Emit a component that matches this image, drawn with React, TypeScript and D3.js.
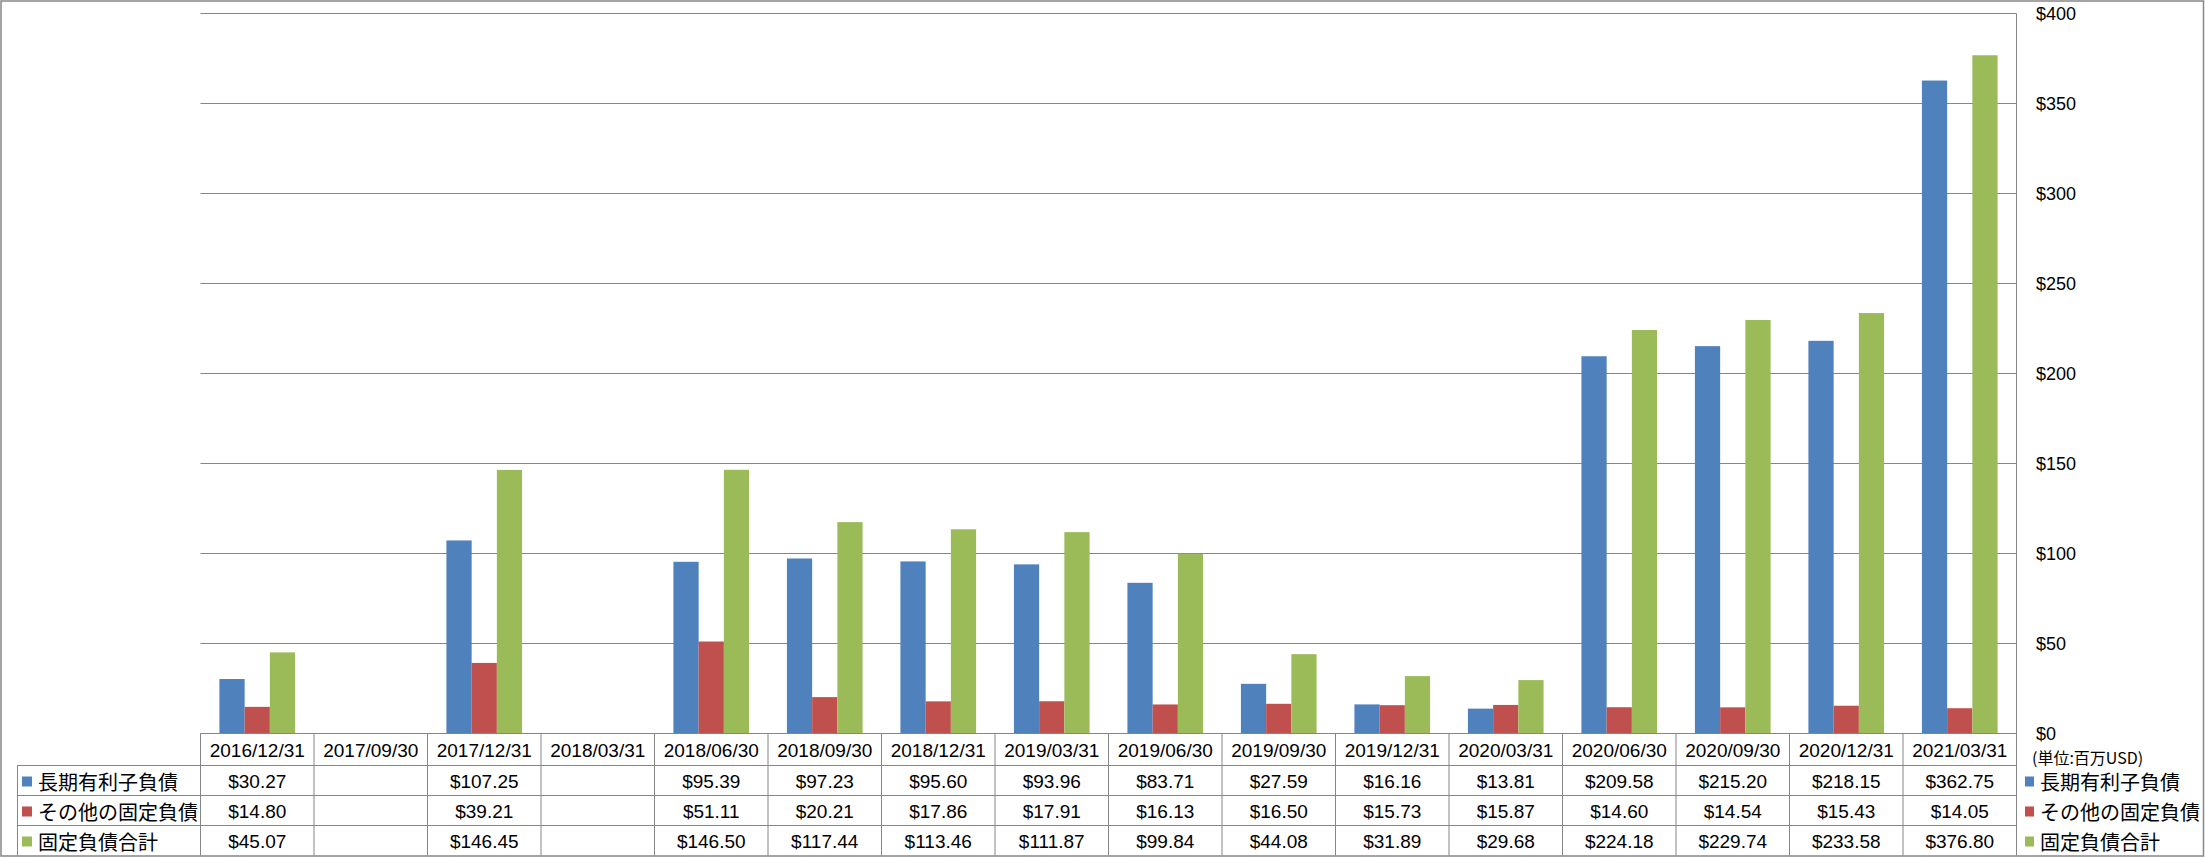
import React from "react";
import * as d3 from "d3";

const categories = [
  "2016/12/31", "2017/09/30", "2017/12/31", "2018/03/31", "2018/06/30", "2018/09/30",
  "2018/12/31", "2019/03/31", "2019/06/30", "2019/09/30", "2019/12/31", "2020/03/31",
  "2020/06/30", "2020/09/30", "2020/12/31", "2021/03/31",
];
const seriesNames = ["長期有利子負債", "その他の固定負債", "固定負債合計"];
const longTermDebt = [30.27, null, 107.25, null, 95.39, 97.23, 95.6, 93.96, 83.71, 27.59, 16.16, 13.81, 209.58, 215.2, 218.15, 362.75];
const otherFixed = [14.8, null, 39.21, null, 51.11, 20.21, 17.86, 17.91, 16.13, 16.5, 15.73, 15.87, 14.6, 14.54, 15.43, 14.05];
const totalFixed = [45.07, null, 146.45, null, 146.5, 117.44, 113.46, 111.87, 99.84, 44.08, 31.89, 29.68, 224.18, 229.74, 233.58, 376.8];
const seriesColors = ["#4F81BD", "#C0504D", "#9BBB59"];
const yTicks = [0, 50, 100, 150, 200, 250, 300, 350, 400];
const unitLabel = "(単位:百万USD)";

const seriesValues = [longTermDebt, otherFixed, totalFixed];

export default function App() {
  const W = 2205, H = 858;
  const plotLeft = 200.5, plotRight = 2016.5, plotTop = 13.5, plotBottom = 733.5;
  const rowTops = [733.5, 765.5, 795.5, 825.5, 855.5];
  const labelLeft = 17.5;
  const grid = "#868686";
  const numFont = "'Liberation Sans', Arial, sans-serif";
  const jpFont = "'Noto Sans CJK JP', 'Noto Sans CJK SC', sans-serif";

  const x = d3.scaleBand<string>().domain(categories).range([plotLeft, plotRight]).paddingInner(0).paddingOuter(0);
  const bw = x.bandwidth() / 4.5;
  const xs = d3.scaleBand<string>().domain(seriesNames).range([0.75 * bw, 0.75 * bw + 3 * bw]);
  const y = d3.scaleLinear().domain([0, 400]).range([plotBottom, plotTop]);
  const fmt = (v: number) => "$" + d3.format(".2f")(v);

  return (
    <svg width={W} height={H} style={{ position: "absolute", left: 0, top: 0, background: "#fff" }}>
      <rect x={1} y={1} width={W - 2.5} height={855} fill="#fff" stroke={grid} strokeWidth={1.5} />
      {yTicks.map((t) => (
        <g key={t}>
          <line x1={plotLeft} x2={plotRight} y1={y(t)} y2={y(t)} stroke={grid} strokeWidth={1} />
          <text x={2036} y={y(t)} dominantBaseline="central" fontFamily={numFont} fontSize={18} fill="#000">
            ${t}
          </text>
        </g>
      ))}
      {seriesValues.map((vals, si) =>
        vals.map((v, ci) =>
          v == null ? null : (
            <rect
              key={si + "-" + ci}
              x={(x(categories[ci]) as number) + (xs(seriesNames[si]) as number)}
              y={y(v)}
              width={xs.bandwidth()}
              height={y(0) - y(v)}
              fill={seriesColors[si]}
            />
          )
        )
      )}
      {/* table lines */}
      <line x1={plotLeft} x2={plotRight} y1={rowTops[0]} y2={rowTops[0]} stroke={grid} strokeWidth={1} />
      {rowTops.slice(1, 4).map((r) => (
        <line key={r} x1={labelLeft} x2={plotRight} y1={r} y2={r} stroke={grid} strokeWidth={1} />
      ))}
      <line x1={labelLeft} x2={labelLeft} y1={rowTops[1]} y2={rowTops[4]} stroke={grid} strokeWidth={1} />
      {categories.map((c) => (
        <line key={c} x1={x(c)} x2={x(c)} y1={rowTops[0]} y2={rowTops[4]} stroke={grid} strokeWidth={1} />
      ))}
      <line x1={plotRight} x2={plotRight} y1={plotTop} y2={rowTops[4]} stroke={grid} strokeWidth={1} />
      {categories.map((c) => (
        <text key={c} x={(x(c) as number) + x.bandwidth() / 2} y={(rowTops[0] + rowTops[1]) / 2 + 1}
          textAnchor="middle" dominantBaseline="central" fontFamily={numFont} fontSize={19} fill="#000">
          {c}
        </text>
      ))}
      {seriesValues.map((vals, si) => {
        const cy = (rowTops[si + 1] + rowTops[si + 2]) / 2 + 1;
        return (
          <g key={si}>
            <rect x={22} y={cy - 5} width={10} height={10} fill={seriesColors[si]} />
            <text x={38} y={cy} dominantBaseline="central" fontFamily={jpFont} fontSize={20} fill="#000">
              {seriesNames[si]}
            </text>
            {vals.map((v, ci) =>
              v == null ? null : (
                <text key={ci} x={(x(categories[ci]) as number) + x.bandwidth() / 2} y={cy}
                  textAnchor="middle" dominantBaseline="central" fontFamily={numFont} fontSize={19} fill="#000">
                  {fmt(v)}
                </text>
              )
            )}
            <rect x={2025} y={cy - 5} width={9} height={10} fill={seriesColors[si]} />
            <text x={2040} y={cy} dominantBaseline="central" fontFamily={jpFont} fontSize={20} fill="#000">
              {seriesNames[si]}
            </text>
          </g>
        );
      })}
      <text x={2032} y={757} dominantBaseline="central" fontFamily={jpFont} fontSize={16} fill="#000">
        {unitLabel}
      </text>
    </svg>
  );
}
